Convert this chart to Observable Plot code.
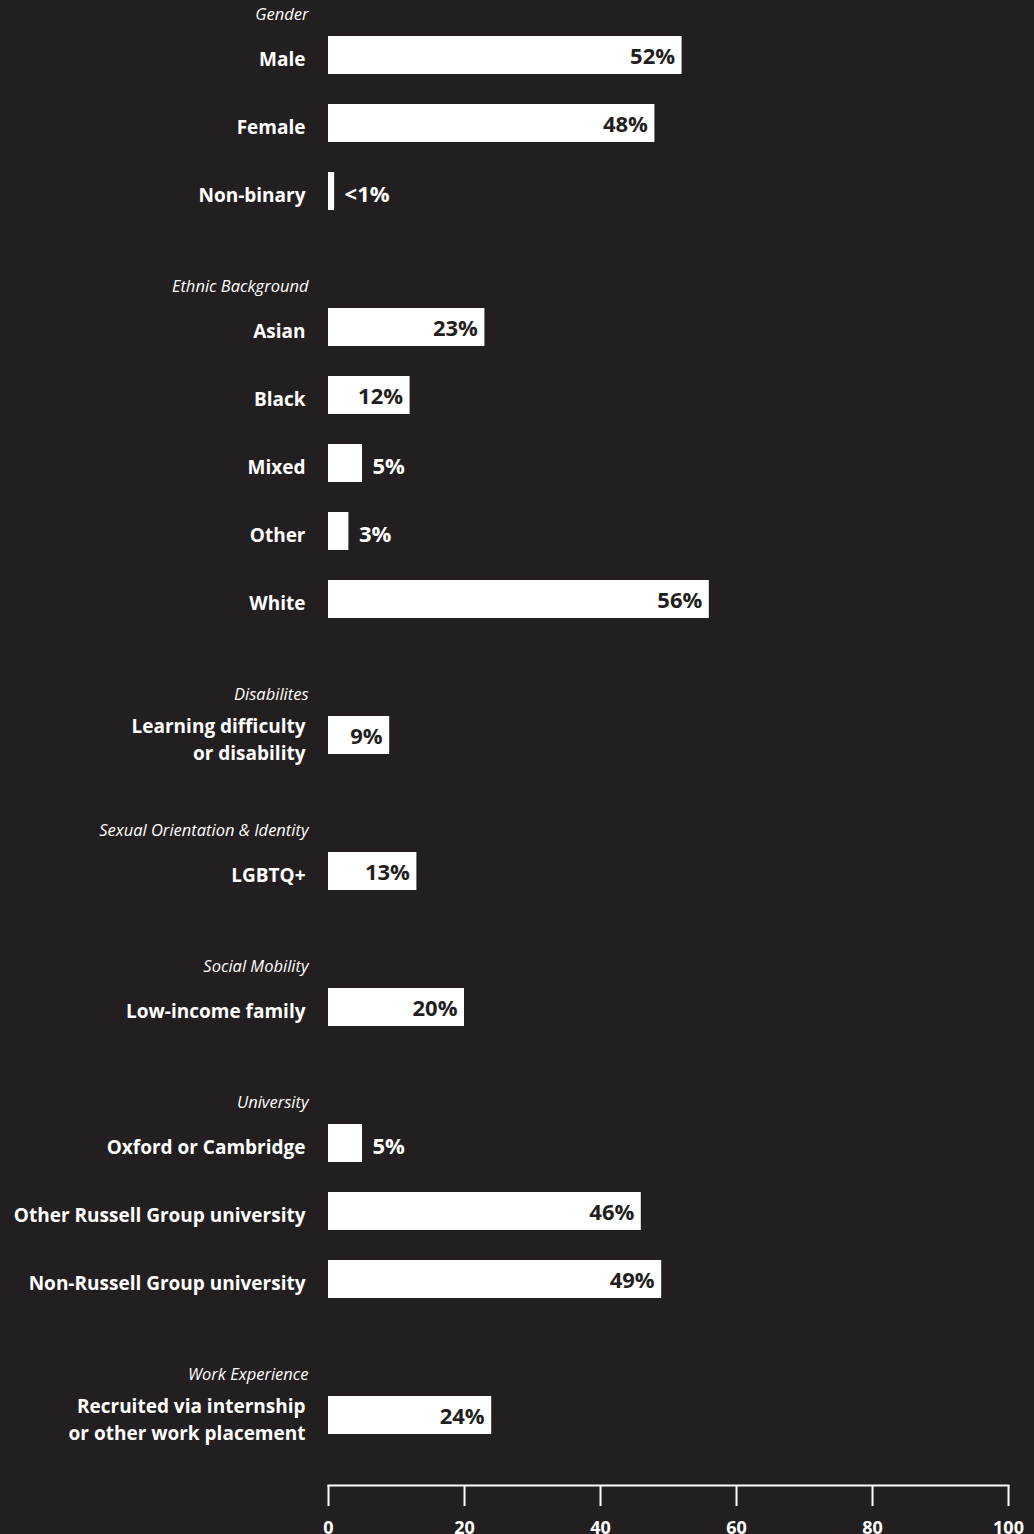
<!DOCTYPE html>
<html><head><meta charset="utf-8">
<script src="https://cdn.jsdelivr.net/npm/d3@7"></script>
<script src="https://cdn.jsdelivr.net/npm/@observablehq/plot@0.6"></script>
<style>html,body{margin:0;padding:0;background:#231f20;}</style>
</head><body><div id="chart"></div>
<script>
const categories = ["Male","Female","Non-binary","Asian","Black","Mixed","Other","White",
  "Learning difficulty\nor disability","LGBTQ+","Low-income family","Oxford or Cambridge",
  "Other Russell Group university","Non-Russell Group university",
  "Recruited via internship\nor other work placement"];
const categoryGroup = ["Gender","Gender","Gender","Ethnic Background","Ethnic Background","Ethnic Background",
  "Ethnic Background","Ethnic Background","Disabilites","Sexual Orientation & Identity","Social Mobility",
  "University","University","University","Work Experience"];
const values = [52, 48, 0.9, 23, 12, 5, 3, 56, 9, 13, 20, 5, 46, 49, 24];
const valueLabels = ["52%","48%","<1%","23%","12%","5%","3%","56%","9%","13%","20%","5%","46%","49%","24%"];
const xTicks = [0, 20, 40, 60, 80, 100];

const data = categories.map((c, i) => ({
  category: c, group: categoryGroup[i], value: values[i], label: valueLabels[i],
  first: i === 0 || categoryGroup[i] !== categoryGroup[i - 1]
}));
const rows = [];
data.forEach((d, i) => { if (i > 0 && d.first) rows.push("gap" + i); rows.push(d.category); });

const bg = "#231f20";
const chart = Plot.plot({
  width: 1034, height: 1534,
  marginLeft: 328, marginRight: 26, marginTop: 0, marginBottom: 49,
  style: {background: bg, color: "#fff", fontFamily: "'Open Sans', sans-serif", overflow: "visible"},
  x: {domain: [0, 100], axis: null, label: null},
  y: {type: "band", domain: rows, range: [35.5, 1434.6], padding: 0.44, paddingOuter: 0, axis: null},
  marks: [
    Plot.frame({anchor: "bottom", stroke: "#fff", strokeWidth: 2}),
    Plot.axisX({ticks: xTicks, label: null, tickSize: 21, tickPadding: 15, strokeWidth: 2, stroke: "#fff", fill: "#fff",
      fontSize: 18, fontWeight: 700, tickFormat: d => String(d)}),
    Plot.barX(data, {x: "value", y: "category", fill: "#fff"}),
    Plot.text(data, {y: "category", x: 0, text: "category", textAnchor: "end", dx: -23, dy: 2,
      fontSize: 19, fontWeight: 700, fill: "#fff", lineHeight: 1.42}),
    Plot.text(data.filter(d => d.first), {y: "category", x: 0, text: "group", textAnchor: "end",
      dx: -20, dy: -41, fontStyle: "italic", fontSize: 16.5, fill: "#fff"}),
    Plot.text(data.filter(d => d.value >= 8), {y: "category", x: "value", text: "label", textAnchor: "end",
      dx: -7, dy: 1, fill: bg, fontSize: 22, fontWeight: 700}),
    Plot.text(data.filter(d => d.value < 8), {y: "category", x: "value", text: "label", textAnchor: "start",
      dx: 10, dy: 3, fill: "#fff", fontSize: 22, fontWeight: 700})
  ]
});
document.getElementById("chart").append(chart);
</script>
</body></html>
